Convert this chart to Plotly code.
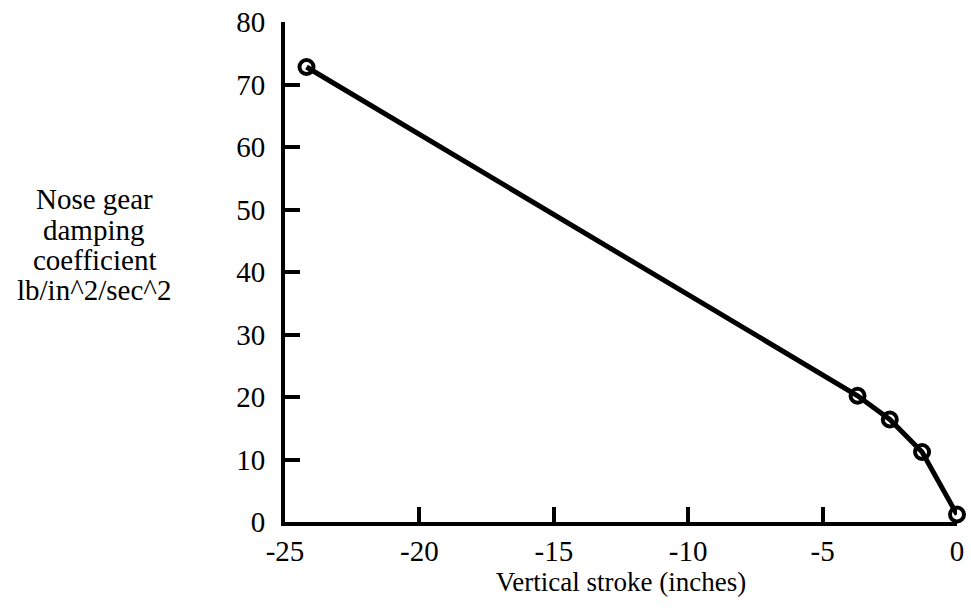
import plotly.graph_objects as go

# Nose gear damping coefficient vs. vertical stroke
stroke_in = [-24.2, -3.7, -2.5, -1.3, 0.0]
damping_coef = [72.8, 20.2, 16.4, 11.2, 1.2]

x_ticks = [-25, -20, -15, -10, -5, 0]
x_tick_text = ["-25", "-20", "-15", "-10", "-5", "0"]
y_ticks = [0, 10, 20, 30, 40, 50, 60, 70, 80]

y_label_lines = ["Nose gear", "damping", "coefficient", "lb/in^2/sec^2"]

serif = "Liberation Serif, Times New Roman, serif"
W, H = 971, 610
M_L, M_R, M_T, M_B = 285, 14, 22, 88

fig = go.Figure()
fig.add_trace(go.Scatter(
    x=stroke_in,
    y=damping_coef,
    mode="lines+markers",
    line=dict(color="black", width=5),
    marker=dict(symbol="circle-open", size=14, color="black",
                line=dict(color="black", width=4)),
    cliponaxis=False,
    showlegend=False,
))

axis_common = dict(
    showline=True, linecolor="black", linewidth=4,
    showgrid=False, zeroline=False, automargin=False,
    ticks="inside", ticklen=15, tickwidth=3.5, tickcolor="black",
    tickfont=dict(family=serif, size=29, color="black"),
)

fig.update_xaxes(range=[-25, 0], tickvals=x_ticks, ticktext=x_tick_text,
                 title=dict(text="Vertical stroke (inches)",
                            font=dict(family=serif, size=27, color="black"),
                            standoff=3),
                 **axis_common)
fig.update_yaxes(range=[0, 80], tickvals=y_ticks, ticklabelstandoff=10,
                 **axis_common)

# multi-line axis caption with tight leading, one annotation per line
plot_h = H - M_T - M_B
for i, line in enumerate(y_label_lines):
    py = 199 + 30.5 * i
    fig.add_annotation(
        text=line, xref="paper", yref="paper",
        x=(94 - M_L) / (W - M_L - M_R), y=(H - M_B - py) / plot_h,
        xanchor="center", yanchor="middle", showarrow=False,
        font=dict(family=serif, size=29, color="black"),
    )

fig.update_layout(
    width=W, height=H,
    margin=dict(l=M_L, r=M_R, t=M_T, b=M_B),
    paper_bgcolor="white", plot_bgcolor="white",
)

fig.write_html("out.html")
